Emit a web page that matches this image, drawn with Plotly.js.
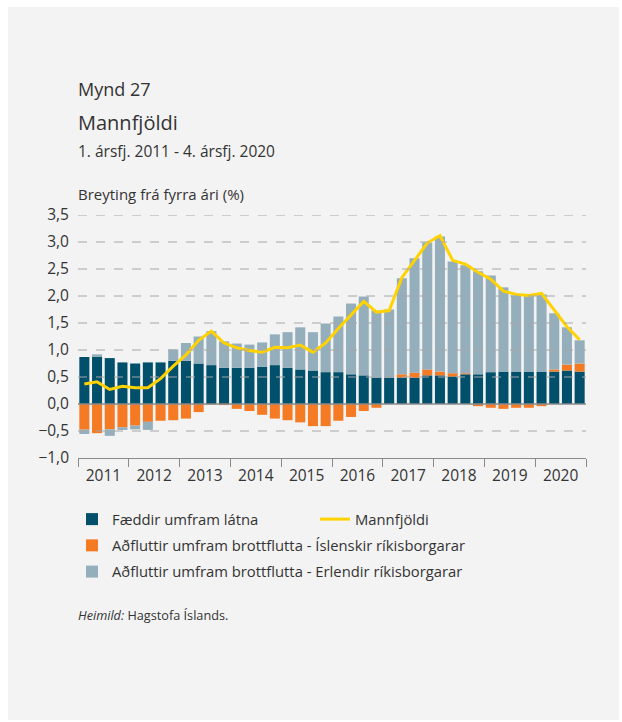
<!DOCTYPE html>
<html>
<head>
<meta charset="utf-8">
<script src="https://cdn.plot.ly/plotly-3.0.1.min.js"></script>
<style>
  html, body { margin: 0; padding: 0; background: #ffffff; }
  #wrap { position: relative; width: 622px; height: 722px; }
  #box { position: absolute; left: 8px; top: 7px; width: 611px; height: 713px; background: #f3f3f3; }
  #chart { position: absolute; left: 0; top: 0; width: 622px; height: 722px; }
</style>
</head>
<body>
<div id="wrap"><div id="box"></div><div id="chart"></div></div>
<script>
// Quarters 2011Q1 - 2020Q4
const years = ["2011","2012","2013","2014","2015","2016","2017","2018","2019","2020"];
const quarters = [];
years.forEach(y => { for (let q = 1; q <= 4; q++) quarters.push(y + "Q" + q); });

// Fæddir umfram látna
const faeddir = [0.87,0.87,0.85,0.77,0.75,0.77,0.77,0.80,0.80,0.75,
                 0.72,0.67,0.67,0.67,0.69,0.72,0.67,0.64,0.62,0.59,
                 0.59,0.55,0.53,0.49,0.49,0.49,0.49,0.53,0.53,0.51,
                 0.55,0.55,0.59,0.60,0.60,0.60,0.60,0.60,0.62,0.60];
// Aðfluttir umfram brottflutta - Íslenskir ríkisborgarar
const islenskir = [-0.475,-0.54,-0.47,-0.43,-0.40,-0.33,-0.31,-0.30,-0.27,-0.15,
                   -0.01,-0.02,-0.09,-0.13,-0.20,-0.27,-0.30,-0.34,-0.41,-0.41,
                   -0.31,-0.24,-0.13,-0.07,0.00,0.06,0.09,0.11,0.07,0.06,
                   0.02,-0.04,-0.07,-0.09,-0.07,-0.07,-0.04,0.04,0.11,0.15];
// Aðfluttir umfram brottflutta - Erlendir ríkisborgarar
const erlendir = [-0.08,0.05,-0.12,-0.05,-0.07,-0.15,0.00,0.21,0.33,0.50,
                  0.63,0.49,0.45,0.43,0.45,0.57,0.66,0.78,0.71,0.90,
                  1.03,1.31,1.46,1.24,1.26,1.78,2.12,2.35,2.50,2.07,
                  2.00,1.91,1.79,1.56,1.41,1.41,1.43,1.04,0.69,0.43];
// Mannfjöldi
const mannfjoldi = [0.37,0.41,0.27,0.33,0.30,0.30,0.47,0.70,0.91,1.18,
                    1.35,1.13,1.04,0.99,0.96,1.05,1.04,1.09,0.96,1.13,
                    1.40,1.65,1.90,1.70,1.73,2.34,2.66,2.98,3.12,2.66,
                    2.59,2.44,2.31,2.09,2.03,2.01,2.05,1.73,1.43,1.19];

const yTicks = [-1.0,-0.5,0,0.5,1.0,1.5,2.0,2.5,3.0,3.5];

const xIdx = quarters.map((q, i) => i);
const yearCenters = years.map((y, i) => i * 4 + 1.5);
const yearBounds = years.map((y, i) => i * 4 - 0.5).concat([years.length * 4 - 0.5]);

const FONT = "'Open Sans', sans-serif";
const TXT = "#333333";

const traces = [
  {type: "bar", x: xIdx, y: faeddir, name: "Fæddir umfram látna",
   marker: {color: "#004f6b"}, legend: "legend", legendgroup: "a"},
  {type: "bar", x: xIdx, y: islenskir, name: "Aðfluttir umfram brottflutta - Íslenskir ríkisborgarar",
   marker: {color: "#f47a24"}, legend: "legend", legendgroup: "b"},
  {type: "bar", x: xIdx, y: erlendir, name: "Aðfluttir umfram brottflutta - Erlendir ríkisborgarar",
   marker: {color: "#94aebc"}, legend: "legend", legendgroup: "c"},
  {type: "scatter", mode: "lines", x: xIdx, y: mannfjoldi, name: "Mannfjöldi",
   line: {color: "#ffd200", width: 3}, legend: "legend2"}
];

const shapes = yTicks.filter(v => v !== -1.0).map(v => ({
  type: "line", xref: "paper", x0: 0, x1: 1, yref: "y", y0: v, y1: v, layer: "above",
  line: {color: v === 0 ? "#8a8a8a" : "#a6a6a6", width: v === 0 ? 1.5 : 1, dash: v === 0 ? "solid" : "dash"}
}));

const PL = 78, PT = 215, PW = 508, PH = 243;
const px2x = p => (p - PL) / PW;
const py2y = p => (PT + PH - p) / PH;

const annotations = [
  {text: "Mynd 27", x: px2x(77), y: py2y(89), size: 18},
  {text: "Mannfjöldi", x: px2x(77), y: py2y(123), size: 20},
  {text: "1. ársfj. 2011 - 4. ársfj. 2020", x: px2x(77), y: py2y(151), size: 15.5},
  {text: "Breyting frá fyrra ári (%)", x: px2x(77), y: py2y(194), size: 15},
  {text: "<i>Heimild:</i> Hagstofa Íslands.", x: px2x(77), y: py2y(615), size: 12.7}
].map(a => ({
  text: a.text, xref: "paper", yref: "paper", x: a.x, y: a.y, xanchor: "left", yanchor: "middle",
  showarrow: false, borderpad: 0, font: {family: FONT, size: a.size, color: TXT}
}));

const layout = {
  width: 622, height: 722,
  margin: {l: PL, r: 622 - PL - PW, t: PT, b: 722 - PT - PH},
  paper_bgcolor: "rgba(0,0,0,0)", plot_bgcolor: "rgba(0,0,0,0)",
  separators: ", ",
  barmode: "relative", bargap: 0.21,
  font: {family: FONT, size: 13, color: TXT},
  xaxis: {
    range: [-0.5, quarters.length - 0.5], showgrid: false, zeroline: false,
    tickmode: "array", tickvals: yearCenters, ticktext: years, ticks: "",
    tickfont: {size: 15.5, color: TXT}, ticklabelstandoff: 3,
    showline: true, linecolor: "#8a8a8a", linewidth: 1,
    minor: {tickmode: "array", tickvals: yearBounds, ticks: "outside", ticklen: 8, tickcolor: "#8a8a8a", tickwidth: 1, showgrid: false}
  },
  yaxis: {
    range: [-1.0, 3.5], tickmode: "array", tickvals: yTicks, tickformat: ".1f",
    showgrid: false, zeroline: false, ticks: "", tickfont: {size: 15.5, color: TXT},
    ticklabelstandoff: 8
  },
  showlegend: true,
  legend: {x: px2x(72), y: py2y(503), xanchor: "left", yanchor: "top", orientation: "v",
           traceorder: "grouped", tracegroupgap: 4, bgcolor: "rgba(0,0,0,0)",
           font: {family: FONT, size: 14.8, color: TXT}},
  legend2: {x: px2x(315), y: py2y(503), xanchor: "left", yanchor: "top", orientation: "v",
            bgcolor: "rgba(0,0,0,0)", font: {family: FONT, size: 14.8, color: TXT}},
  shapes: shapes,
  annotations: annotations
};

Plotly.newPlot("chart", traces, layout, {displayModeBar: false, staticPlot: true});
</script>
</body>
</html>
